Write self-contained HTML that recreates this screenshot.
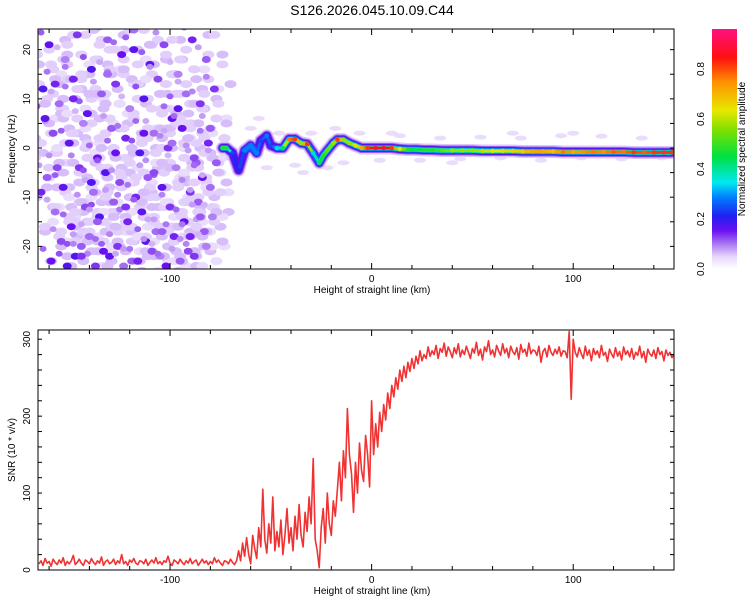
<!DOCTYPE html>
<html><head><meta charset="utf-8"><style>
html,body{margin:0;padding:0;background:#fff;width:750px;height:600px;overflow:hidden}
svg{font-family:"Liberation Sans",sans-serif}
</style></head><body>
<svg id="c" width="750" height="600" viewBox="0 0 750 600">
<defs>
<clipPath id="clipTop"><rect x="38" y="29" width="636" height="240"/></clipPath>
<clipPath id="clipBot"><rect x="38" y="330" width="636" height="240"/></clipPath>
<linearGradient id="cbar" x1="0" y1="1" x2="0" y2="0">
<stop offset="0" stop-color="#ffffff"/><stop offset="0.05" stop-color="#e8d8fc"/>
<stop offset="0.1" stop-color="#b080f4"/><stop offset="0.16" stop-color="#6a10f0"/>
<stop offset="0.22" stop-color="#2020f0"/><stop offset="0.3" stop-color="#0080ff"/>
<stop offset="0.36" stop-color="#00e8f0"/><stop offset="0.47" stop-color="#00e040"/>
<stop offset="0.58" stop-color="#80e000"/><stop offset="0.66" stop-color="#e8e800"/>
<stop offset="0.78" stop-color="#ff9000"/><stop offset="0.88" stop-color="#ff1010"/>
<stop offset="1" stop-color="#ff1080"/></linearGradient>
</defs>
<text x="372" y="15" font-size="14" text-anchor="middle">S126.2026.045.10.09.C44</text>
<g id="topPanel"></g>
<g id="botPanel"></g>
<g id="cb"></g>
</svg>
<script>
const xDomain=[-165.5,150];
const xTicks=[-100,0,100];
const topYDomain=[-24.6,24.2];
const topYTicks=[-20,-10,0,10,20];
const botYDomain=[0,312];
const botYTicks=[0,100,200,300];
const cbTicks=[0.0,0.2,0.4,0.6,0.8];
const snrStartKm=-165;
const snrStepKm=1;
const snrValues=[8,12,6,15,9,11,5,14,10,7,13,9,16,6,11,8,12,19,7,10,14,9,6,13,11,8,15,10,7,12,9,17,6,11,13,8,10,14,7,12,9,20,8,11,6,13,10,15,9,7,12,11,8,14,6,10,13,9,16,8,11,7,12,10,18,9,6,13,11,8,14,10,7,12,9,15,8,11,13,6,10,14,9,12,7,11,8,16,10,13,9,6,12,11,8,14,10,7,12,
25,12,35,18,42,20,8,45,28,15,55,30,105,40,22,60,35,95,25,50,30,65,20,45,80,35,55,25,70,40,85,45,30,75,50,95,60,145,40,25,3,55,80,35,100,60,45,90,70,105,140,90,155,120,210,150,125,
75,140,100,165,130,115,175,150,108,220,150,190,160,205,180,215,195,230,210,240,225,250,235,260,245,265,250,270,258,275,262,278,268,285,272,280,275,290,278,285,
280,292,275,288,283,295,278,290,284,276,289,281,294,277,286,280,291,283,275,288,282,296,279,287,273,290,284,298,280,286,277,292,285,279,294,282,288,276,291,284,280,289,274,293,283,287,278,295,281,286,285,279,291,270,284,288,277,292,283,279,287,281,290,278,285,284,276,310,222,300,283,277,289,281,275,291,279,286,272,288,280,285,276,292,279,283,271,287,281,276,289,278,284,273,290,280,285,277,288,274,283,279,291,276,284,270,287,281,278,286,275,289,280,284,272,286,279,283,276,281];
const ridgeKm=[-74,-72,-69,-66,-63,-60,-57,-55,-52,-50,-47,-44,-41,-38,-35,-32,-29,-26,-24,-22,-19,-17,-14,-11,-8,-5,-2,2,6,10,14,18,22,26,30,35,40,45,50,55,60,65,70,75,80,85,90,95,100,105,110,115,120,125,130,135,140,145,149];
const ridgeHz=[0,0,-1,-4.5,-0.5,0.5,-1,1.5,2.5,0.5,0,0,1.8,1.8,1,0.8,-1,-3,-1.5,-0.5,1,1.7,1.7,1,0.5,0,0,0,0,0,-0.2,-0.3,-0.3,-0.4,-0.4,-0.5,-0.5,-0.5,-0.5,-0.6,-0.6,-0.6,-0.6,-0.7,-0.7,-0.7,-0.7,-0.8,-0.8,-0.8,-0.8,-0.8,-0.8,-0.8,-0.9,-0.9,-0.9,-0.9,-0.9];
const ridgeAmp=[0.5,0.5,0.25,0.2,0.3,0.3,0.3,0.25,0.3,0.25,0.35,0.45,0.8,0.85,0.6,0.85,0.35,0.45,0.5,0.55,0.6,0.85,0.6,0.6,0.65,0.75,0.85,0.9,0.9,0.85,0.65,0.5,0.45,0.5,0.5,0.55,0.6,0.6,0.6,0.62,0.65,0.68,0.7,0.7,0.75,0.75,0.72,0.8,0.75,0.78,0.8,0.78,0.82,0.8,0.85,0.82,0.85,0.85,0.85];
const noiseKm=[-160,-152,-146,-139,-131,-124,-118,-110,-103,-96,-89,-82,-78,-163,-155,-148,-141,-134,-127,-120,-113,-106,-99,-92,-85,-80,-158,-150,-143,-136,-129,-122,-115,-108,-101,-94,-87,-81,-161,-153,-145,-138,-132,-125,-117,-111,-104,-97,-90,-84,-77,-157,-149,-142,-135,-128,-121,-114,-107,-100,-93,-86,-79,-164,-154,-147,-140,-133,-126,-119,-112,-105,-98,-91,-83,-159,-151,-144,-137,-130,-123,-116,-109,-102,-95,-88,-82,-162,-156,-148,-139,-131,-122,-113,-104,-96,-88,-80,-157,-144,-136,-127,-118,-108,-99,-90,-85];
const noiseHz=[21,18,23,16,22,19,24,17,21,15,22,18,12,12,9,14,7,11,13,8,10,14,6,11,9,4,3,1,5,-2,4,2,-1,3,0,4,-3,1,-6,-8,-4,-9,-5,-7,-10,-6,-8,-4,-9,-6,-3,-13,-16,-12,-14,-11,-15,-13,-17,-12,-15,-11,-14,-9,-19,-22,-18,-21,-20,-23,-19,-22,-18,-21,-17,-23,-24,-20,-24,-22,-24,-23,-21,-24,-23,-22,-20,6,-4,10,-7,15,-12,3,-17,8,-2,-8,13,-22,-15,-1,20,-5,1,-18,-14];
const noiseAmp=[0.17,0.1,0.14,0.18,0.12,0.16,0.11,0.17,0.13,0.1,0.15,0.12,0.14,0.18,0.11,0.15,0.17,0.12,0.14,0.1,0.18,0.13,0.16,0.11,0.14,0.12,0.13,0.17,0.1,0.16,0.12,0.15,0.18,0.11,0.14,0.16,0.12,0.15,0.12,0.17,0.14,0.11,0.18,0.13,0.15,0.12,0.17,0.1,0.14,0.16,0.12,0.11,0.16,0.13,0.18,0.12,0.15,0.17,0.11,0.14,0.16,0.12,0.1,0.15,0.13,0.18,0.11,0.16,0.14,0.12,0.17,0.1,0.15,0.13,0.12,0.16,0.18,0.12,0.14,0.17,0.11,0.15,0.13,0.16,0.12,0.14,0.1,0.17,0.13,0.15,0.18,0.11,0.14,0.16,0.12,0.17,0.13,0.11,0.15,0.14,0.12,0.16,0.17,0.13,0.11,0.15,0.12,0.14];
const haloKm=[-60,-52,-46,-38,-30,-22,-14,-6,4,14,24,34,44,54,64,74,84,94,104,114,124,134,144,-56,-34,-18,10,40,70,100];
const haloHz=[4,-4,3,-3.5,3,-4,-3,3,-2.5,2.5,-2.5,2,-2.2,2.2,-2,2,-2.5,2.5,-2,2.4,-2.2,2,-2,6,-5,4,3,-3,3,3];

const NS='http://www.w3.org/2000/svg';
const L=38,R=674,TT=29,TB=269,BT=330,BB=570;
const sx=v=>L+(v-xDomain[0])/(xDomain[1]-xDomain[0])*(R-L);
const sTop=v=>TB-(v-topYDomain[0])/(topYDomain[1]-topYDomain[0])*(TB-TT);
const sBot=v=>BB-(v-botYDomain[0])/(botYDomain[1]-botYDomain[0])*(BB-BT);
const stops=[[0,[255,255,255]],[0.05,[232,216,252]],[0.1,[176,128,244]],[0.16,[106,16,240]],[0.22,[32,32,240]],[0.3,[0,128,255]],[0.36,[0,232,240]],[0.47,[0,224,64]],[0.58,[128,224,0]],[0.66,[232,232,0]],[0.78,[255,144,0]],[0.88,[255,16,16]],[1,[255,16,128]]];
function cmap(a){a=Math.max(0,Math.min(1,a));for(let i=1;i<stops.length;i++){if(a<=stops[i][0]){const[t0,c0]=stops[i-1],[t1,c1]=stops[i];const f=(a-t0)/(t1-t0);return 'rgb('+c0.map((c,k)=>Math.round(c+(c1[k]-c)*f)).join(',')+')';}}return 'rgb(255,16,128)';}
function mk(tag,attrs,parent){const e=document.createElementNS(NS,tag);for(const k in attrs)e.setAttribute(k,attrs[k]);parent.appendChild(e);return e;}

const topG=document.getElementById('topPanel');
const tg=mk('g',{'clip-path':'url(#clipTop)'},topG);
const offs=[[0,0],[4,5],[-5,-4],[6,-6],[-3,7],[8,1]];
for(let i=0;i<noiseKm.length;i++){
  for(let k=1;k<offs.length;k++){
    const e2=mk('ellipse',{cx:sx(noiseKm[i]+offs[k][0]),cy:sTop(noiseHz[i]+offs[k][1]),rx:6,ry:4,fill:cmap(0.045+0.01*(k%3))},tg);
    
    
  }
}
for(let i=0;i<noiseKm.length;i++){
  const e=mk('ellipse',{cx:sx(noiseKm[i]),cy:sTop(noiseHz[i]),rx:4.5,ry:3.5,fill:cmap(noiseAmp[i])},tg);
  
  
  const e3=mk('ellipse',{cx:sx(noiseKm[i]-4),cy:sTop(noiseHz[i]+2.5),rx:3.5,ry:3,fill:cmap(noiseAmp[i]*0.7)},tg);
  
  
}
for(let i=0;i<haloKm.length;i++){
  const e=mk('ellipse',{cx:sx(haloKm[i]),cy:sTop(haloHz[i]),rx:6,ry:2.5,fill:cmap(0.045)},tg);
  
  
}
const levels=[[0.06,13],[0.12,10],[0.18,8],[0.28,6],[0.4,4.5]];
for(const[lv,w] of levels){
  for(let i=0;i<ridgeKm.length-1;i++){
    const a=Math.min(ridgeAmp[i],ridgeAmp[i+1]);
    if(a<lv)continue;
    const s=mk('line',{x1:sx(ridgeKm[i]),y1:sTop(ridgeHz[i]),x2:sx(ridgeKm[i+1]),y2:sTop(ridgeHz[i+1]),stroke:cmap(lv),'stroke-width':w,'stroke-linecap':'round'},tg);
    
    
  }
}
for(let i=0;i<ridgeKm.length-1;i++){
  const a=(ridgeAmp[i]+ridgeAmp[i+1])/2;
  const s=mk('line',{x1:sx(ridgeKm[i]),y1:sTop(ridgeHz[i]),x2:sx(ridgeKm[i+1]),y2:sTop(ridgeHz[i+1]),stroke:cmap(a),'stroke-width':2.8,'stroke-linecap':'round'},tg);
  
  
}
for(let i=0;i<ridgeKm.length;i++){
  const c=mk('circle',{cx:sx(ridgeKm[i]),cy:sTop(ridgeHz[i]),r:2.2,fill:cmap(ridgeAmp[i])},tg);
  
  
}

function axes(parent,T,B,yTicks,sy,yMinor,yLabel,prefix){
  const f=mk('rect',{x:L,y:T,width:R-L,height:B-T,fill:'none',stroke:'#000','stroke-width':1},parent);
  
  
  for(let v=-160;v<=140;v+=20){
    const x=sx(v),len=(v%100===0)?6:4;
    mk('line',{x1:x,y1:B,x2:x,y2:B-len,stroke:'#000'},parent);
    mk('line',{x1:x,y1:T,x2:x,y2:T+len,stroke:'#000'},parent);
  }
  for(const v of xTicks){
    const t=mk('text',{x:sx(v),y:B+13,'font-size':10,'text-anchor':'middle'},parent);
    t.textContent=v;
    
    
  }
  for(const v of yMinor){
    const y=sy(v);
    mk('line',{x1:L,y1:y,x2:L+4,y2:y,stroke:'#000'},parent);
    mk('line',{x1:R,y1:y,x2:R-4,y2:y,stroke:'#000'},parent);
  }
  for(const v of yTicks){
    const y=sy(v);
    const t=mk('text',{x:30,y:y,'font-size':10,'text-anchor':'middle',transform:`rotate(-90 30 ${y})`},parent);
    t.textContent=v;
    
    
  }
  const xl=mk('text',{x:372,y:B+24,'font-size':10,'text-anchor':'middle'},parent);
  xl.textContent='Height of straight line (km)';
  
  
  const my=(T+B)/2;
  const yl=mk('text',{x:15,y:my,'font-size':10,'text-anchor':'middle',transform:`rotate(-90 15 ${my})`},parent);
  yl.textContent=yLabel;
  
  
}
const tMinor=[];for(let v=-20;v<=20;v+=5)tMinor.push(v);
axes(topG,TT,TB,topYTicks,sTop,tMinor,'Frequency (Hz)','top');

const botG=document.getElementById('botPanel');
const bg=mk('g',{'clip-path':'url(#clipBot)'},botG);
const pts=snrValues.map((v,i)=>sx(snrStartKm+i*snrStepKm).toFixed(1)+','+sBot(v).toFixed(1)).join(' ');
const snrLine=mk('polyline',{points:pts,fill:'none',stroke:'#f03232','stroke-width':1.6,'stroke-linejoin':'round'},bg);


const bMinor=[];for(let v=0;v<=300;v+=20)bMinor.push(v);
axes(botG,BT,BB,botYTicks,sBot,bMinor,'SNR (10 * v/v)','snr');

const cb=document.getElementById('cb');
const cy=v=>269-v*250;
const cr=mk('rect',{x:712,y:29,width:25,height:240,fill:'url(#cbar)'},cb);


for(const v of cbTicks){
  const y=cy(v);
  const t=mk('text',{x:704,y:y,'font-size':10,'text-anchor':'middle',transform:`rotate(-90 704 ${y})`},cb);
  t.textContent=v.toFixed(1);
  
  
}
const ct=mk('text',{x:745,y:149,'font-size':10,'text-anchor':'middle',transform:'rotate(-90 745 149)'},cb);
ct.textContent='Normalized spectral amplitude';


</script>
</body></html>
